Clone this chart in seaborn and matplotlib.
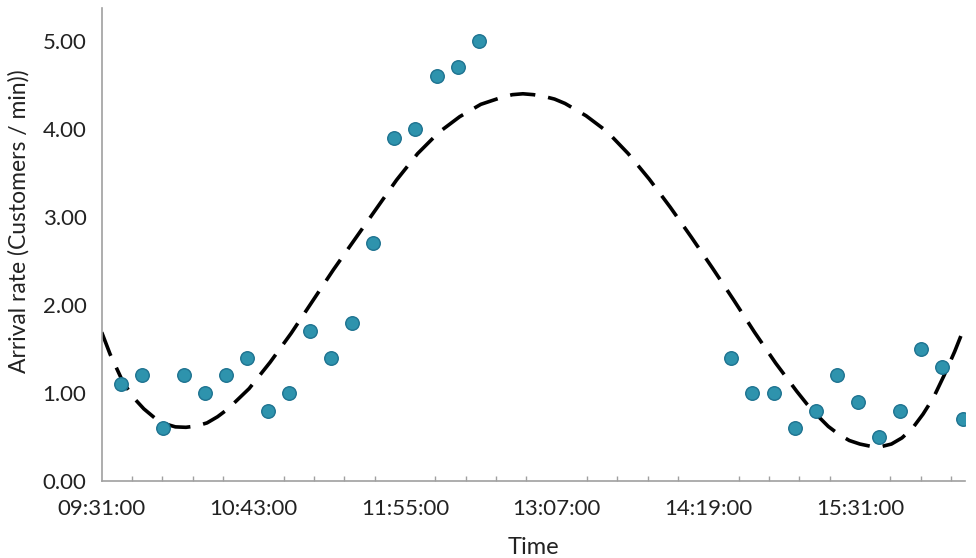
import numpy as np
import pandas as pd
import matplotlib
matplotlib.use("Agg")
import matplotlib.pyplot as plt
from matplotlib.ticker import FixedLocator, NullFormatter
import seaborn as sns

# Observed arrival rates, sampled every 10 minutes (morning and afternoon sessions)
obs_times_am = ["09:40", "09:50", "10:00", "10:10", "10:20", "10:30", "10:40", "10:50", "11:00",
                "11:10", "11:20", "11:30", "11:40", "11:50", "12:00", "12:10", "12:20", "12:30"]
obs_rate_am = [1.1, 1.2, 0.6, 1.2, 1.0, 1.2, 1.4, 0.8, 1.0,
               1.7, 1.4, 1.8, 2.7, 3.9, 4.0, 4.6, 4.7, 5.0]

obs_times_pm = ["14:30", "14:40", "14:50", "15:00", "15:10", "15:20",
                "15:30", "15:40", "15:50", "16:00", "16:10", "16:20"]
obs_rate_pm = [1.4, 1.0, 1.0, 0.6, 0.8, 1.2, 0.9, 0.5, 0.8, 1.5, 1.3, 0.7]

# Fitted rate curve (denser samples where it bends most)
fit_times = ["09:31", "09:35", "09:41", "09:46", "09:51", "09:56", "10:01", "10:06", "10:11",
             "10:16", "10:21", "10:26", "10:31", "10:41", "10:51",
             "11:01", "11:11", "11:21", "11:31", "11:41", "11:51", "12:01", "12:11", "12:21",
             "12:31", "12:36", "12:41", "12:46", "12:51", "12:56", "13:01", "13:06", "13:11",
             "13:21", "13:31", "13:41", "13:51",
             "14:01", "14:11", "14:21", "14:31", "14:41", "14:51", "15:01", "15:06", "15:11",
             "15:16", "15:21", "15:26", "15:31", "15:36", "15:41", "15:46", "15:51", "15:56",
             "16:01", "16:06", "16:11", "16:16", "16:21"]
fit_rate = [1.69, 1.44, 1.13, 0.95, 0.82, 0.72, 0.65, 0.615, 0.61,
            0.625, 0.66, 0.73, 0.82, 1.05, 1.35,
            1.68, 2.04, 2.40, 2.74, 3.08, 3.42, 3.72, 3.96, 4.14,
            4.28, 4.32, 4.36, 4.39, 4.40, 4.39, 4.37, 4.34, 4.29,
            4.15, 3.97, 3.72, 3.43,
            3.11, 2.77, 2.42, 2.06, 1.69, 1.34, 1.02, 0.87, 0.74,
            0.62, 0.53, 0.46, 0.42, 0.395, 0.39, 0.42, 0.49, 0.60,
            0.76, 0.95, 1.20, 1.47, 1.77]

tick_labels = ["09:31:00", "10:43:00", "11:55:00", "13:07:00", "14:19:00", "15:31:00"]
y_ticks = [0, 1, 2, 3, 4, 5]


def to_minutes(hhmm):
    h, m = hhmm.split(":")[:2]
    return int(h) * 60 + int(m)


obs = pd.DataFrame({
    "minute": [to_minutes(t) for t in obs_times_am + obs_times_pm],
    "rate": obs_rate_am + obs_rate_pm,
})
fit = pd.DataFrame({"minute": [to_minutes(t) for t in fit_times], "rate": fit_rate})
major = [to_minutes(t) for t in tick_labels]

sns.set_theme(style="white")
plt.rcParams["font.family"] = ["Lato", "DejaVu Sans"]

fig = plt.figure(figsize=(9.76, 5.58), dpi=100)
ax = fig.add_axes([0.1042, 0.1380, 0.8847, 0.8477])

sns.lineplot(data=fit, x="minute", y="rate", ax=ax, color="black",
             linewidth=2.6, dashes=False, zorder=2, sort=True)
ax.lines[0].set_dashes((7, 3.6))

sns.scatterplot(data=obs, x="minute", y="rate", ax=ax, s=95,
                color="#2E93AD", edgecolor="#1E7390", linewidth=1.0, zorder=3)

x0, x1 = to_minutes(fit_times[0]), to_minutes(fit_times[-1])
ax.set_xlim(x0, x1)
ax.set_ylim(0, 5.375)

ax.xaxis.set_major_locator(FixedLocator(major))
ax.set_xticklabels(tick_labels)
ax.xaxis.set_minor_locator(FixedLocator(np.arange(x0, x1, 14.4)))
ax.xaxis.set_minor_formatter(NullFormatter())
ax.set_yticks(y_ticks)
ax.set_yticklabels([f"{v:.2f}" for v in y_ticks])

for side in ("top", "right"):
    ax.spines[side].set_visible(False)
for side in ("left", "bottom"):
    ax.spines[side].set_color("#A0A0A0")
    ax.spines[side].set_linewidth(1.2)

ax.tick_params(axis="x", which="major", direction="inout", length=10.5, width=1.1,
               color="#A0A0A0", labelsize=16, labelcolor="#222222", pad=8)
ax.tick_params(axis="x", which="minor", direction="in", length=3.8, width=1.0,
               color="#A0A0A0", bottom=True)
ax.tick_params(axis="y", which="both", length=0, labelsize=16,
               labelcolor="#222222", pad=11)

ax.set_xlabel("Time", fontsize=17, color="#222222", labelpad=13)
ax.set_ylabel("Arrival rate (Customers / min))", fontsize=16.5, color="#222222")
ax.yaxis.set_label_coords(-0.083, 0.55)

fig.savefig("out.png", dpi=100)
